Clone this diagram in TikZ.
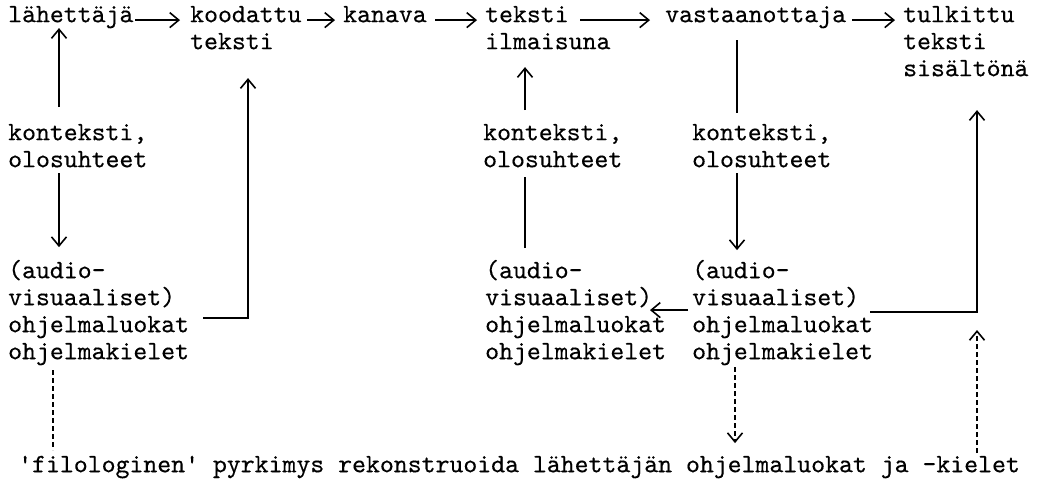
\documentclass[tikz,border=0pt]{standalone}
\usepackage{fontspec}
\setmonofont{lmmono10-regular.otf}[FakeBold=0.35]
\usetikzlibrary{arrows.meta}

\begin{document}
\begin{tikzpicture}[x=1pt,y=-1pt,
  txt/.style={anchor=north west,inner sep=0pt,align=left,
    font=\ttfamily\fontsize{26.5}{27}\selectfont},
  arr/.style={-{Straight Barb[length=9pt,width=15pt]},line width=1.6pt},
  link/.style={line width=1.6pt},
  hint/.style={line width=1.6pt,dash pattern=on 5pt off 3pt},
  hintarr/.style={hint,-{Straight Barb[length=9pt,width=15pt]}}]
\useasboundingbox (0,0) rectangle (1040,481);

% top row
\node[txt] (sender)   at (8,3.1)   {\strut lähettäjä};
\node[txt] (coded)    at (190,3.1) {\strut koodattu\\teksti};
\node[txt] (channel)  at (343,3.1) {\strut kanava};
\node[txt] (textexpr) at (485,3.1) {\strut teksti\\ilmaisuna};
\node[txt] (receiver) at (665,3.1) {\strut vastaanottaja};
\node[txt] (interp)   at (903,3.1) {\strut tulkittu\\teksti\\sisältönä};

% context
\node[txt] (ctxA) at (8,121.1)   {\strut konteksti,\\olosuhteet};
\node[txt] (ctxB) at (483,121.1) {\strut konteksti,\\olosuhteet};
\node[txt] (ctxC) at (692,121.1) {\strut konteksti,\\olosuhteet};

% program classes
\node[txt] (progA) at (8,259.1)   {\strut (audio-\\visuaaliset)\\ohjelmaluokat\\ohjelmakielet};
\node[txt] (progB) at (485,259.1) {\strut (audio-\\visuaaliset)\\ohjelmaluokat\\ohjelmakielet};
\node[txt] (progC) at (692,259.1) {\strut (audio-\\visuaaliset)\\ohjelmaluokat\\ohjelmakielet};

\node[txt] (goal) at (18,453.1) {\strut 'filologinen' pyrkimys rekonstruoida lähettäjän ohjelmaluokat ja -kielet};
\coordinate (recon) at (977,330);

% chain
\draw[arr] ([shift={(127,17)}]sender.north west) -- ([shift={(-10,17)}]coded.north west);
\draw[arr] ([shift={(117,17)}]coded.north west) -- ([shift={(-8,17)}]channel.north west);
\draw[arr] ([shift={(92,17)}]channel.north west) -- ([shift={(-8,17)}]textexpr.north west);
\draw[arr] ([shift={(95,17)}]textexpr.north west) -- ([shift={(-15,17)}]receiver.north west);
\draw[arr] ([shift={(187,17)}]receiver.north west) -- ([shift={(-8,17)}]interp.north west);

% sender side
\draw[arr] ([shift={(51,-14)}]ctxA.north west) -- ([shift={(51,25)}]sender.north west);
\draw[arr] ([shift={(51,52)}]ctxA.north west) -- ([shift={(51,-12)}]progA.north west);
\draw[arr] ([shift={(195,59)}]progA.north west) -| ([shift={(58,75)}]coded.north west);

% text side
\draw[arr] ([shift={(42,-11)}]ctxB.north west) -- ([shift={(40,64)}]textexpr.north west);
\draw[link] ([shift={(40,-11)}]progB.north west) -- ([shift={(42,56)}]ctxB.north west);

% receiver side
\draw[link] ([shift={(72,37)}]receiver.north west) -- ([shift={(45,-8)}]ctxC.north west);
\draw[arr] ([shift={(45,52)}]ctxC.north west) -- ([shift={(45,-9)}]progC.north west);
\draw[arr] ([shift={(-4,51)}]progC.north west) -- ([shift={(165,51)}]progB.north west);
\draw[arr] ([shift={(178,53)}]progC.north west) -| ([shift={(74,107)}]interp.north west);

% reconstruction
\draw[hint] ([shift={(45,111)}]progA.north west) -- ([shift={(35,-3)}]goal.north west);
\draw[hintarr] ([shift={(43,108)}]progC.north west) -- ([shift={(717,-10)}]goal.north west);
\draw[hintarr] ([shift={(959,0)}]goal.north west) -- (recon);
\end{tikzpicture}
\end{document}
